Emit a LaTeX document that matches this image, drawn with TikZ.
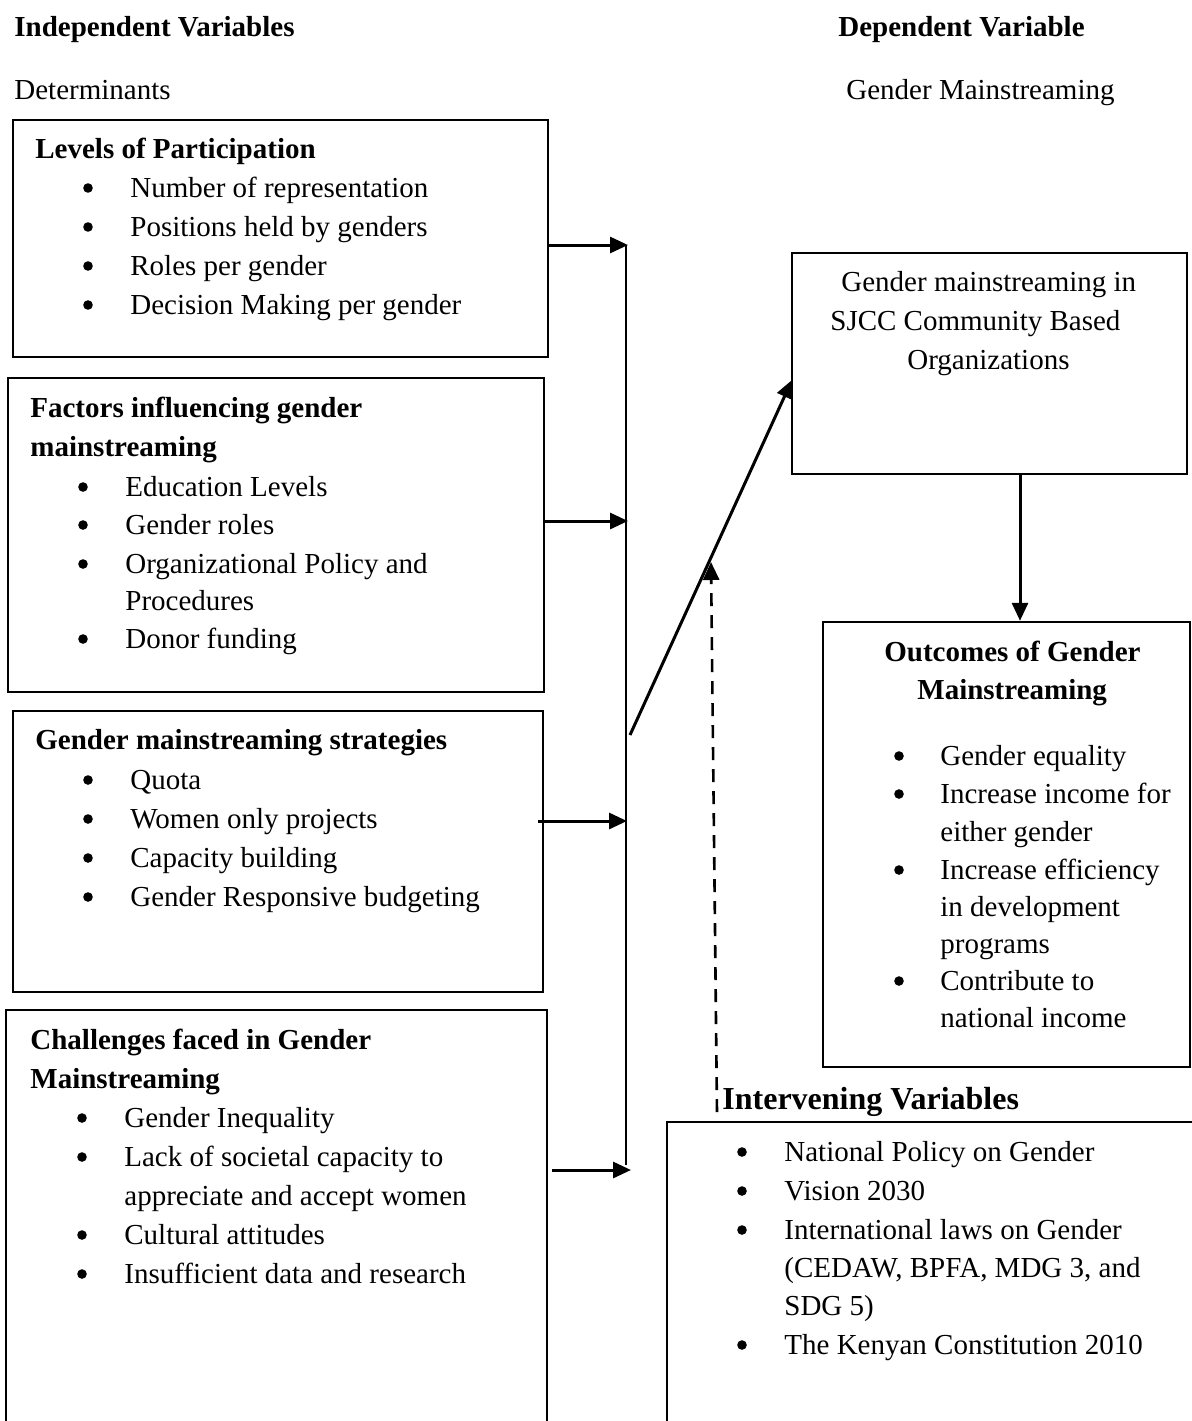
\documentclass[tikz,border=0pt]{standalone}
\usepackage{fontspec}
\setmainfont{Liberation Serif}
\usetikzlibrary{fit,arrows.meta}
\tikzset{x=0.5pt,y=-0.5pt,
 box/.style={draw,line width=1.2pt,inner sep=0pt},
 txt/.style={anchor=base west,inner sep=0pt,font=\fontsize{14.5}{17}\selectfont},
 ttl/.style={anchor=base west,inner sep=0pt,font=\fontsize{14.5}{17}\selectfont\bfseries},
 bul/.style={circle,fill,inner sep=0pt,minimum size=4.8pt},
 arr/.style={line width=1.5pt,-{Triangle[length=9pt,width=8pt]}},
 thinline/.style={line width=0.7pt},
 dashedarr/.style={line width=1.3pt,dash pattern=on 6.5pt off 4.5pt,-{Triangle[length=9pt,width=8pt]}},
}
\newcommand\bitem[5]{\node[bul] (#1b) at (#2,#4-9) {}; \node[txt] (#1) at (#3,#4) {#5};}
\begin{document}
\begin{tikzpicture}
\clip (0,0) rectangle (1192,1421);
\fill[white] (0,0) rectangle (1192,1421);
% headers
\node[ttl] (hind) at (14,36) {Independent Variables};
\node[ttl] (hdep) at (838,36) {Dependent Variable};
\node[txt] (hdet) at (14,99) {Determinants};
\node[txt] (hgm) at (846,99) {Gender Mainstreaming};
% boxes
\coordinate (b1a) at (13,120); \coordinate (b1z) at (548,357);
\coordinate (b2a) at (8,378); \coordinate (b2z) at (544,692);
\coordinate (b3a) at (13,711); \coordinate (b3z) at (543,992);
\coordinate (b4a) at (6,1010); \coordinate (b4z) at (547,1440);
\coordinate (sja) at (792,253); \coordinate (sjz) at (1187,474);
\coordinate (oca) at (823,622); \coordinate (ocz) at (1190,1067);
\coordinate (iva) at (667,1122); \coordinate (ivz) at (1210,1440);
\node[box,fit=(b1a)(b1z)] (b1) {};
\node[box,fit=(b2a)(b2z)] (b2) {};
\node[box,fit=(b3a)(b3z)] (b3) {};
\node[box,fit=(b4a)(b4z)] (b4) {};
\node[box,fit=(sja)(sjz)] (sj) {};
\node[box,fit=(oca)(ocz)] (oc) {};
\node[box,fit=(iva)(ivz)] (iv) {};
% box 1
\node[ttl] (t1) at (35,158) {Levels of Participation};
\bitem{a1}{88}{130}{197}{Number of representation}
\bitem{a2}{88}{130}{236}{Positions held by genders}
\bitem{a3}{88}{130}{275}{Roles per gender}
\bitem{a4}{88}{130}{314}{Decision Making per gender}
% box 2
\node[ttl] (t2a) at (30,417) {Factors influencing gender};
\node[ttl] (t2b) at (30,456) {mainstreaming};
\bitem{c1}{83}{125}{496}{Education Levels}
\bitem{c2}{83}{125}{534}{Gender roles}
\bitem{c3}{83}{125}{573}{Organizational Policy and}
\node[txt] (c3x) at (125,610) {Procedures};
\bitem{c4}{83}{125}{648}{Donor funding}
% box 3
\node[ttl] (t3) at (35,749) {Gender mainstreaming strategies};
\bitem{e1}{88}{130}{789}{Quota}
\bitem{e2}{88}{130}{828}{Women only projects}
\bitem{e3}{88}{130}{867}{Capacity building}
\bitem{e4}{88}{130}{906}{Gender Responsive budgeting}
% box 4
\node[ttl] (t4a) at (30,1049) {Challenges faced in Gender};
\node[ttl] (t4b) at (30,1088) {Mainstreaming};
\bitem{g1}{82}{124}{1127}{Gender Inequality}
\bitem{g2}{82}{124}{1166}{Lack of societal capacity to}
\node[txt] (g2x) at (124,1205) {appreciate and accept women};
\bitem{g3}{82}{124}{1244}{Cultural attitudes}
\bitem{g4}{82}{124}{1283}{Insufficient data and research}
% SJCC box
\node[txt] (s1) at (841,291) {Gender mainstreaming in};
\node[txt] (s2) at (830,330) {SJCC Community Based};
\node[txt] (s3) at (907,369) {Organizations};
% outcomes
\node[ttl] (o1) at (884,661) {Outcomes of Gender};
\node[ttl] (o2) at (917,699) {Mainstreaming};
\bitem{p1}{899}{940}{765}{Gender equality}
\bitem{p2}{899}{940}{803}{Increase income for}
\node[txt] (p2x) at (940,841) {either gender};
\bitem{p3}{899}{940}{879}{Increase efficiency}
\node[txt] (p3x) at (940,916) {in development};
\node[txt] (p3y) at (940,953) {programs};
\bitem{p4}{899}{940}{990}{Contribute to}
\node[txt] (p4x) at (940,1027) {national income};
% intervening
\node[anchor=base west,inner sep=0pt,font=\fontsize{16}{19}\selectfont\bfseries] (ivl) at (722,1109) {Intervening Variables};
\bitem{q1}{742}{784}{1161}{National Policy on Gender}
\bitem{q2}{742}{784}{1200}{Vision 2030}
\bitem{q3}{742}{784}{1239}{International laws on Gender}
\node[txt] (q3x) at (784,1277) {(CEDAW, BPFA, MDG 3, and};
\node[txt] (q3y) at (784,1315) {SDG 5)};
\bitem{q4}{742}{784}{1354}{The Kenyan Constitution 2010}
% connectors
\coordinate (vt) at (626,245);
\coordinate (vb) at (626,1165);
\draw[thinline] (vt) -- (vb);
\coordinate (j1) at (628,245);
\coordinate (j2) at (628,521);
\coordinate (j3) at (627,821);
\coordinate (j4) at (631,1170);
\coordinate (e3s) at (538,821);
\coordinate (g4s) at (552,1170);
\draw[arr] (b1.east |- j1) -- (j1);
\draw[arr] (b2.east |- j2) -- (j2);
\draw[arr] (e3s) -- (j3);
\draw[arr] (g4s) -- (j4);
\coordinate (d0) at (630,735);
\coordinate (dt) at (792,380);
\draw[arr] (d0) -- (dt);
\coordinate (dsb) at (717,1112);
\coordinate (dst) at (711,562);
\draw[dashedarr] (dsb) -- (dst);
\coordinate (sx) at (1020,0);
\draw[arr] (sj.south -| sx) -- (oc.north -| sx);
\end{tikzpicture}
\end{document}
